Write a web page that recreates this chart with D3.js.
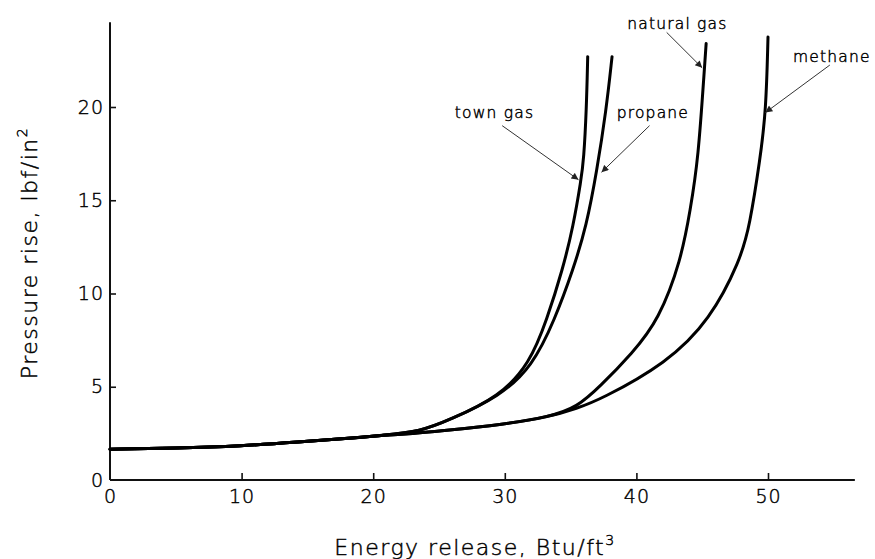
<!DOCTYPE html>
<html>
<head>
<meta charset="utf-8">
<script src="https://cdn.jsdelivr.net/npm/d3@7"></script>
<style>
  body { margin: 0; background: #fff; }
  svg { display: block; }
  text { font-family: "DejaVu Sans", sans-serif; font-weight: 200; fill: #000; stroke: #000; stroke-width: 0.45px; }
</style>
</head>
<body>
<svg id="chart" width="875" height="559"></svg>
<script>
// values
let xTicks = [0, 10, 20, 30, 40, 50];
let yTicks = [0, 5, 10, 15, 20];

let townGas = [[0, 1.65], [5, 1.7], [10, 1.82], [14.4, 2.04], [18, 2.22], [20.7, 2.4], [23.6, 2.6],
  [25.8, 3.22], [29.6, 4.47], [31.9, 6.26], [33.2, 8.6], [34.4, 11.3], [35.2, 13.6], [35.8, 16.1],
  [36.0, 17.2], [36.2, 19.8], [36.3, 22.7]];
let propane = [[0, 1.65], [5, 1.7], [10, 1.82], [14.4, 2.04], [18, 2.22], [20.7, 2.4], [23.6, 2.6],
  [25.8, 3.22], [29.6, 4.47], [32.1, 6.1], [33.8, 8.6], [35.2, 11.3], [36.2, 13.6], [37.0, 16.6],
  [37.7, 19.8], [38.15, 22.7]];
let naturalGas = [[0, 1.65], [5, 1.7], [10, 1.82], [14.4, 2.04], [18, 2.22], [20.7, 2.4], [22.0, 2.42],
  [25.8, 2.68], [29.6, 2.95], [33.4, 3.38], [35.5, 3.91], [37.2, 4.99], [39.7, 6.81], [41.7, 8.58],
  [43.4, 11.8], [44.1, 14.5], [44.7, 17.2], [45.17, 22.1], [45.3, 23.4]];
let methane = [[0, 1.65], [5, 1.7], [10, 1.82], [14.4, 2.04], [18, 2.22], [20.7, 2.4], [22.0, 2.42],
  [25.8, 2.68], [29.6, 2.95], [33.4, 3.38], [35.5, 3.85], [37.2, 4.29], [42.3, 6.26], [45.6, 8.58],
  [47.9, 11.8], [48.6, 13.6], [49.4, 17.2], [49.85, 19.8], [50.0, 23.75]];

let series = [townGas, propane, naturalGas, methane];

// label text, label position, leader start, leader end (data units)
let labels = ["town gas", "propane", "natural gas", "methane"];
let labelAt = [[26.2, 19.4], [38.5, 19.4], [39.3, 24.2], [51.9, 22.4]];
let leaderFrom = [[29.8, 19.0], [41.0, 19.0], [42.3, 24.0], [54.7, 22.25]];
let leaderTo = [[35.6, 16.1], [37.35, 16.5], [45.0, 22.1], [49.8, 19.7]];

let svg = d3.select("#chart");

let x = d3.scaleLinear().domain([0, 50]).range([110, 768]);
let y = d3.scaleLinear().domain([0, 20]).range([480, 107]);

svg.append("defs").append("marker")
    .attr("id", "arrow")
    .attr("viewBox", "0 0 10 10")
    .attr("refX", 10)
    .attr("refY", 5)
    .attr("markerWidth", 9)
    .attr("markerHeight", 7)
    .attr("markerUnits", "userSpaceOnUse")
    .attr("orient", "auto")
  .append("path")
    .attr("d", "M0,0 L10,5 L0,10 z")
    .attr("fill", "#222");

// axis lines, drawn a bit past the last tick like the original
svg.append("line")
    .attr("x1", x(0)).attr("x2", x(0))
    .attr("y1", y(0)).attr("y2", y(24.55))
    .attr("stroke", "#111").attr("stroke-width", 2);
svg.append("line")
    .attr("x1", x(0)).attr("x2", x(56.6))
    .attr("y1", y(0)).attr("y2", y(0))
    .attr("stroke", "#111").attr("stroke-width", 2);

let xAxis = svg.append("g")
    .attr("transform", `translate(0,${y(0)})`)
    .call(d3.axisBottom(x).tickValues(xTicks).tickSize(-7).tickSizeOuter(0).tickPadding(10));
xAxis.select(".domain").remove();

let yAxis = svg.append("g")
    .attr("transform", `translate(${x(0)},0)`)
    .call(d3.axisLeft(y).tickValues(yTicks).tickSize(-6).tickSizeOuter(0).tickPadding(6));
yAxis.select(".domain").remove();

svg.selectAll(".tick line").attr("stroke", "#111").attr("stroke-width", 1.6);
svg.selectAll(".tick text")
    .attr("font-family", "DejaVu Sans, sans-serif")
    .attr("font-size", 19)
    .attr("letter-spacing", 1)
    .attr("fill", "#000");
yAxis.selectAll(".tick").filter(d => d == 0).select("line").remove();
xAxis.selectAll(".tick").filter(d => d == 0).select("line").remove();

let line = d3.line()
    .x(d => x(d[0]))
    .y(d => y(d[1]))
    .curve(d3.curveBasis);

svg.append("g").selectAll("path")
    .data(series)
    .join("path")
    .attr("d", line)
    .attr("fill", "none")
    .attr("stroke", "#000")
    .attr("stroke-width", 3)
    .attr("stroke-linecap", "round");

svg.append("g").selectAll("line")
    .data(labels)
    .join("line")
    .attr("x1", (d, i) => x(leaderFrom[i][0]))
    .attr("y1", (d, i) => y(leaderFrom[i][1]))
    .attr("x2", (d, i) => x(leaderTo[i][0]))
    .attr("y2", (d, i) => y(leaderTo[i][1]))
    .attr("stroke", "#333")
    .attr("stroke-width", 1)
    .attr("marker-end", "url(#arrow)");

svg.append("g").selectAll("text")
    .data(labels)
    .join("text")
    .attr("x", (d, i) => x(labelAt[i][0]))
    .attr("y", (d, i) => y(labelAt[i][1]))
    .attr("font-size", 15.5)
    .attr("letter-spacing", 1.2)
    .attr("stroke-width", 0.35)
    .text(d => d);

// axis titles
let xt = svg.append("text")
    .attr("x", 475)
    .attr("y", 555)
    .attr("text-anchor", "middle")
    .attr("font-size", 22)
    .attr("letter-spacing", 1.5);
xt.append("tspan").text("Energy release, Btu/ft");
xt.append("tspan").attr("font-size", 14).attr("dy", -10).text("3");

let yt = svg.append("text")
    .attr("transform", "translate(37,253) rotate(-90)")
    .attr("text-anchor", "middle")
    .attr("font-size", 22)
    .attr("letter-spacing", 1.5);
yt.append("tspan").text("Pressure rise, lbf/in");
yt.append("tspan").attr("font-size", 14).attr("dy", -10).text("2");
</script>
</body>
</html>
